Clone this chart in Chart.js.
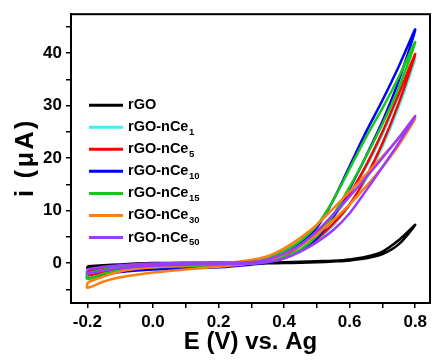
<!DOCTYPE html>
<html>
<head>
<meta charset="utf-8">
<script src="https://cdn.jsdelivr.net/npm/chart.js@4.4.0/dist/chart.umd.min.js"></script>
<style>
  html, body { margin: 0; padding: 0; background: #fff; }
</style>
</head>
<body>
<canvas id="cv" width="435" height="362"></canvas>
<script>
const potentials = [-0.2, -0.15, -0.1, -0.05, 0, 0.1, 0.2, 0.3, 0.35, 0.4, 0.45, 0.5, 0.55, 0.6, 0.65, 0.7, 0.75, 0.8];

// Upper and lower branch of every CV loop (uA), same order as potentials
const rGOUp      = [-0.6, -0.4, -0.25, -0.1, 0, 0.05, 0.05, 0.05, 0.1, 0.15, 0.25, 0.35, 0.45, 0.7, 1.2, 2.2, 4.4, 7.3];
const rGODown    = [-0.9, -0.7, -0.5, -0.35, -0.25, -0.15, -0.1, -0.1, -0.05, 0, 0.05, 0.15, 0.3, 0.5, 0.9, 1.7, 3.6, 7.3];
const nCe1Up     = [-1.4, -0.9, -0.55, -0.35, -0.25, -0.1, 0, 0.2, 0.6, 1.5, 3.2, 5.6, 8.8, 12.9, 18.2, 24.5, 31.8, 39.0];
const nCe1Down   = [-2.2, -1.6, -1.2, -0.95, -0.8, -0.6, -0.4, -0.1, 0.2, 0.9, 2.3, 4.4, 7.2, 11.0, 16.0, 22.2, 29.8, 39.0];
const nCe5Up     = [-1.5, -1.0, -0.6, -0.4, -0.3, -0.1, 0, 0.2, 0.6, 1.5, 3.3, 5.8, 9.0, 13.2, 18.6, 25.0, 32.3, 39.8];
const nCe5Down   = [-2.3, -1.7, -1.3, -1.0, -0.8, -0.6, -0.4, -0.1, 0.2, 0.9, 2.4, 4.6, 7.5, 11.2, 16.4, 22.8, 30.5, 39.8];
const nCe10Up    = [-1.9, -1.3, -0.8, -0.5, -0.3, -0.1, 0, 0.2, 0.7, 1.8, 3.8, 6.8, 12.0, 18.5, 25.0, 31.0, 37.5, 44.5];
const nCe10Down  = [-2.9, -2.2, -1.7, -1.4, -1.2, -1.0, -0.8, -0.3, 0.1, 1.0, 2.4, 4.8, 8.8, 14.2, 20.4, 27.0, 34.8, 44.5];
const nCe15Up    = [-1.9, -1.2, -0.7, -0.4, -0.25, -0.1, 0, 0.3, 1.0, 2.3, 4.2, 7.2, 12.0, 18.0, 24.0, 29.5, 35.5, 42.1];
const nCe15Down  = [-3.0, -2.0, -1.4, -1.0, -0.8, -0.6, -0.4, -0.1, 0.3, 1.2, 2.6, 5.2, 9.2, 14.5, 20.3, 26.5, 33.4, 42.1];
const nCe30Up    = [-3.7, -2.5, -1.6, -1.1, -0.8, -0.4, -0.1, 0.6, 1.3, 2.8, 4.8, 7.3, 10.4, 13.6, 16.9, 20.3, 23.8, 27.6];
const nCe30Down  = [-4.7, -3.5, -2.7, -2.2, -1.8, -1.2, -0.7, -0.1, 0.5, 1.7, 3.3, 5.5, 8.2, 11.2, 14.6, 18.3, 22.5, 27.6];
const nCe50Up    = [-1.2, -0.7, -0.4, -0.2, -0.1, 0, 0.05, 0.2, 0.7, 1.8, 3.5, 6.1, 9.3, 12.7, 16.3, 20.0, 23.9, 28.0];
const nCe50Down  = [-2.0, -1.4, -1.0, -0.7, -0.5, -0.3, -0.2, -0.1, 0.2, 0.9, 2.2, 4.0, 6.3, 9.5, 13.8, 18.3, 22.9, 28.0];

// Legend names (base text + subscript)
const seriesNames = ["rGO", "rGO-nCe", "rGO-nCe", "rGO-nCe", "rGO-nCe", "rGO-nCe", "rGO-nCe"];
const seriesSubs = ["", "1", "5", "10", "15", "30", "50"];
const seriesColors = ["#000000", "#3ff0f0", "#ff0000", "#0000ff", "#18c818", "#ff7f10", "#9a3cff"];
const branches = [
  [rGOUp, rGODown], [nCe1Up, nCe1Down], [nCe5Up, nCe5Down], [nCe10Up, nCe10Down],
  [nCe15Up, nCe15Down], [nCe30Up, nCe30Down], [nCe50Up, nCe50Down],
];

// Axis ticks
const xTicks = [-0.2, -0.1, 0, 0.1, 0.2, 0.3, 0.4, 0.5, 0.6, 0.7, 0.8];
const yTicks = [-5, 0, 5, 10, 15, 20, 25, 30, 35, 40, 45];

const FONT = '"Liberation Sans", Arial, sans-serif';

// closed loop: upper branch forward, lower branch back
function loopPoints(up, down) {
  const fwd = potentials.map((e, k) => ({ x: e, y: up[k] }));
  const back = potentials.map((e, k) => ({ x: e, y: down[k] })).reverse().slice(1);
  const pts = fwd.concat(back);
  pts.push(fwd[0]);
  return pts;
}

const datasets = branches.map(([up, down], i) => ({
  label: seriesNames[i] + seriesSubs[i],
  data: loopPoints(up, down),
  borderColor: seriesColors[i],
  backgroundColor: seriesColors[i],
  borderWidth: 2.5,
  pointRadius: 0,
  showLine: true,
  tension: 0.3,
  order: branches.length - i,
}));

// Box frame around plot area + y axis title (needs letter spacing)
const framePlugin = {
  id: "frame",
  afterDraw(chart) {
    const { ctx, chartArea: a } = chart;
    ctx.save();
    ctx.strokeStyle = "#000";
    ctx.lineWidth = 2;
    ctx.strokeRect(a.left, a.top, a.right - a.left, a.bottom - a.top);
    ctx.translate(26, (a.top + a.bottom) / 2 - 1);
    ctx.rotate(-Math.PI / 2);
    ctx.font = "bold 25px " + FONT;
    ctx.letterSpacing = "2.5px";
    ctx.fillStyle = "#000";
    ctx.textAlign = "center";
    ctx.textBaseline = "middle";
    ctx.fillText("i (\u03bcA)", 0, 0);
    ctx.restore();
  },
};

// Legend with subscripts
const legendPlugin = {
  id: "cvLegend",
  afterDraw(chart) {
    const { ctx, chartArea } = chart;
    const x0 = chartArea.left + 18;
    const y0 = chartArea.top + 91;
    const step = 22.05;
    ctx.save();
    seriesNames.forEach((name, i) => {
      const y = y0 + i * step;
      ctx.strokeStyle = seriesColors[i];
      ctx.lineWidth = 3;
      ctx.beginPath();
      ctx.moveTo(x0, y);
      ctx.lineTo(x0 + 34, y);
      ctx.stroke();
      ctx.fillStyle = "#000";
      ctx.textBaseline = "middle";
      ctx.textAlign = "left";
      ctx.font = "bold 14.5px " + FONT;
      ctx.fillText(name, x0 + 39, y);
      if (seriesSubs[i]) {
        const w = ctx.measureText(name).width;
        ctx.font = "bold 9.5px " + FONT;
        ctx.fillText(seriesSubs[i], x0 + 39 + w + 0.5, y + 5);
      }
    });
    ctx.restore();
  },
};

new Chart(document.getElementById("cv"), {
  type: "scatter",
  data: { datasets },
  options: {
    responsive: false,
    animation: false,
    layout: { padding: { top: 12, right: 5, left: 0, bottom: 0 } },
    plugins: { legend: { display: false }, tooltip: { enabled: false } },
    scales: {
      x: {
        type: "linear",
        min: -0.25,
        max: 0.845,
        afterBuildTicks: (s) => { s.ticks = xTicks.map((v) => ({ value: v })); },
        afterFit: (s) => { s.height = 59; },
        ticks: {
          color: "#000",
          font: { family: FONT, size: 17, weight: "bold" },
          padding: 4,
          maxRotation: 0,
          autoSkip: false,
          callback: (v) => (Math.round(v * 10) % 2 === 0 ? v.toFixed(1) : ""),
        },
        grid: { drawOnChartArea: false, drawTicks: true, tickLength: 5, tickColor: "#000", lineWidth: 1.5 },
        border: { display: true, color: "#000", width: 2 },
        title: {
          display: true,
          text: "E (V) vs. Ag",
          color: "#000",
          font: { family: FONT, size: 24, weight: "bold", lineHeight: 1 },
          padding: { top: 0, bottom: 8 },
        },
      },
      y: {
        type: "linear",
        min: -7.6,
        max: 47.4,
        afterBuildTicks: (s) => { s.ticks = yTicks.map((v) => ({ value: v })); },
        afterFit: (s) => { s.width = 71; },
        ticks: {
          color: "#000",
          font: { family: FONT, size: 17, weight: "bold" },
          padding: 4,
          autoSkip: false,
          callback: (v) => (v % 10 === 0 ? String(v) : ""),
        },
        grid: { drawOnChartArea: false, drawTicks: true, tickLength: 5, tickColor: "#000", lineWidth: 1.5 },
        border: { display: true, color: "#000", width: 2 },
      },
    },
  },
  plugins: [framePlugin, legendPlugin],
});
</script>
</body>
</html>
